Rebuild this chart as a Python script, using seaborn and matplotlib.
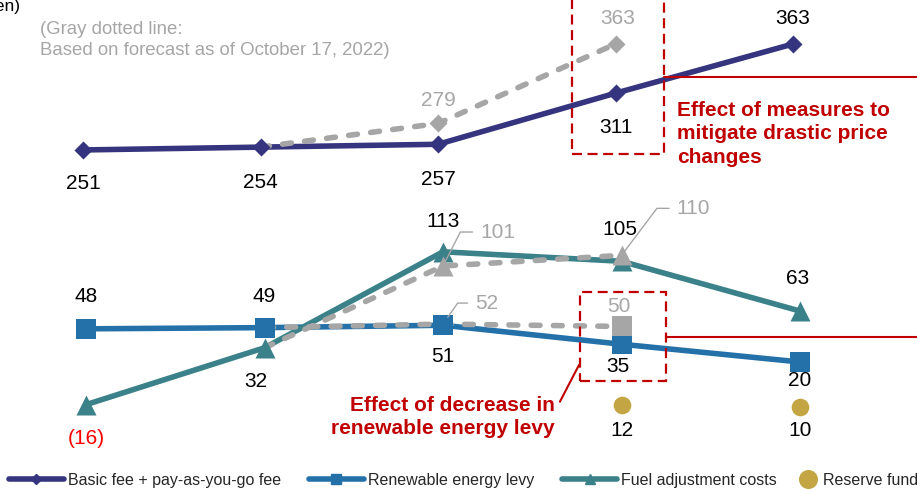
import numpy as np
import pandas as pd
import matplotlib
matplotlib.use("Agg")
import matplotlib.pyplot as plt
import seaborn as sns
from matplotlib.lines import Line2D
from matplotlib.patches import Rectangle

# ---------------- data ----------------
periods = ["P1", "P2", "P3", "P4", "P5"]
basic_fee = [251, 254, 257, 311, 363]
renewable_levy = [48, 49, 51, 35, 20]
fuel_adjustment = [-16, 32, 113, 105, 63]
reserve_fund = [np.nan, np.nan, np.nan, 12, 10]
basic_fee_forecast = [np.nan, 254, 279, 363, np.nan]
renewable_levy_forecast = [np.nan, 49, 52, 50, np.nan]
fuel_adjustment_forecast = [np.nan, 32, 101, 110, np.nan]
series_names = ["Basic fee + pay-as-you-go fee", "Renewable energy levy",
                "Fuel adjustment costs", "Reserve fund"]
note_text = "(Gray dotted line:\nBased on forecast as of October 17, 2022)"
unit_text = "(Yen)"
top_effect_text = "Effect of measures to\nmitigate drastic price\nchanges"
low_effect_text = "Effect of decrease in\nrenewable energy levy"

# ---------------- style ----------------
NAVY = "#35347F"
BLUE = "#2471AA"
TEAL = "#3A818A"
GOLD = "#C3A544"
GRAY = "#A6A6A6"
RED = "#C00000"
NEG = "#FF0000"
LW = 4.0
FS = 15

sns.set_theme(style="white")
plt.rcParams["font.family"] = ["Liberation Sans", "DejaVu Sans"]

W, H = 917, 491
fig = plt.figure(figsize=(W / 100, H / 100), dpi=100)
x = np.arange(len(periods))


def make_axes(x0, dx, y0, dy):
    ax = fig.add_axes([0, 0, 1, 1])
    ax.patch.set_alpha(0)
    ax.axis("off")
    lims = ((-x0 / dx, (W - x0) / dx), ((y0 - H) / dy, y0 / dy))
    return ax, lims


ax_top, lim_top = make_axes(83, 177.5, 387.4, 0.946)
ax_mid, lim_mid = make_axes(86, 178.5, 385.7, 1.185)
ax_res, lim_res = make_axes(86, 178.5, 415.2, 0.85)


def frame(vals, idx=None):
    df = pd.DataFrame({"x": x, "y": vals})
    if idx is not None:
        df = df.loc[idx]
    return df.dropna()


def draw_line(ax, vals, color, z, **kw):
    sns.lineplot(data=frame(vals), x="x", y="y", ax=ax, color=color, lw=LW,
                 zorder=z, legend=False, **kw)


def draw_markers(ax, vals, color, marker, ms, z, idx=None):
    sns.scatterplot(data=frame(vals, idx), x="x", y="y", ax=ax, color=color,
                    marker=marker, s=ms ** 2, linewidth=0, zorder=z, legend=False)


def fmt(v):
    return f"({abs(int(v))})" if v < 0 else f"{int(v)}"


def labels(ax, vals, offs, color="black", idx=None):
    for i, v in enumerate(vals):
        if np.isnan(v) or (idx is not None and i not in idx):
            continue
        dx, dy = offs[i]
        c = NEG if v < 0 else color
        ax.annotate(fmt(v), xy=(x[i], v), xytext=(dx, -dy), textcoords="offset pixels",
                    ha="center", va="center", fontsize=FS, color=c, zorder=10)


dash = (0, (1.6, 2.4))

# top: basic fee
draw_line(ax_top, basic_fee, NAVY, 2)
draw_line(ax_top, basic_fee_forecast, GRAY, 3, linestyle=dash, dash_capstyle="round")
draw_markers(ax_top, basic_fee, NAVY, "D", 9.2, 4)
draw_markers(ax_top, basic_fee_forecast, GRAY, "D", 9.2, 5, idx=[2, 3])
labels(ax_top, basic_fee, [(0, 34), (0, 35), (0, 35), (0, 34), (0, -26)])
labels(ax_top, basic_fee_forecast, [None, None, (0, -23), (2, -26), None], GRAY, idx=[2, 3])

# middle: levy and fuel
draw_line(ax_mid, renewable_levy, BLUE, 2)
draw_line(ax_mid, fuel_adjustment, TEAL, 2)
draw_line(ax_mid, renewable_levy_forecast, GRAY, 3, linestyle=dash, dash_capstyle="round")
draw_line(ax_mid, fuel_adjustment_forecast, GRAY, 3, linestyle=dash, dash_capstyle="round")
draw_markers(ax_mid, renewable_levy, BLUE, "s", 14.4, 4)
draw_markers(ax_mid, fuel_adjustment, TEAL, "^", 14.4, 4)
draw_markers(ax_mid, renewable_levy_forecast, GRAY, "s", 14.4, 5, idx=[3])
draw_markers(ax_mid, fuel_adjustment_forecast, GRAY, "^", 14.4, 5, idx=[2, 3])
labels(ax_mid, renewable_levy, [(0, -32), (0, -31), (0, 31), (-4, 22), (0, 19)])
labels(ax_mid, fuel_adjustment, [(0, 34), (-9, 34), (0, -30), (-2, -32), (-2, -33)])
labels(ax_mid, renewable_levy_forecast, [None, None, None, (-3, -20), None], GRAY, idx=[3])

leader = [(renewable_levy_forecast, 2, 32, 21, 55, 6),
          (fuel_adjustment_forecast, 2, 37, 34, 63, 3),
          (fuel_adjustment_forecast, 3, 55, 47, 53, 2)]
for vals, i, dx, dy, ang, shr in leader:
    ax_mid.annotate(fmt(vals[i]), xy=(x[i], vals[i]), xytext=(dx, dy),
                    textcoords="offset pixels", ha="left", va="center",
                    fontsize=FS, color=GRAY, zorder=10,
                    arrowprops=dict(arrowstyle="-", color=GRAY, lw=1.0,
                                    connectionstyle=f"angle,angleA=0,angleB={ang},rad=0",
                                    relpos=(0, 0.5), shrinkA=3, shrinkB=shr))

# reserve fund
draw_markers(ax_res, reserve_fund, GOLD, "o", 12.7, 4)
labels(ax_res, reserve_fund, [None, None, None, (0, 25), (0, 24)])

# ---------------- red annotations ----------------
ax_top.add_patch(Rectangle((2.753, 246.4), 0.52, 300, fill=False, ec=RED, lw=1.6,
                           ls=(0, (4.5, 2.5)), zorder=6))
ax_top.plot([3.273, 6], [328.4, 328.4], color=RED, lw=1.5, zorder=6)
ax_top.text(3.346, 268, top_effect_text, color=RED, fontsize=FS, fontweight="bold",
            ha="left", va="center", linespacing=1.32)

ax_mid.add_patch(Rectangle((2.767, 4.0), 0.48, 74.8, fill=False, ec=RED, lw=1.6,
                           ls=(0, (4.5, 2.5)), zorder=6))
ax_mid.plot([3.247, 6], [41.35, 41.35], color=RED, lw=1.5, zorder=6)
ax_mid.plot([2.655, 2.762], [-13.5, 17.5], color=RED, lw=1.5, zorder=6)
ax_mid.text(2.627, -26.4, low_effect_text, color=RED, fontsize=FS, fontweight="bold",
            ha="right", va="center", multialignment="right", linespacing=1.32)

fig.text(40 / W, 1 - 40 / H, note_text, color=GRAY, fontsize=13.4, ha="left",
         va="center", linespacing=1.38)
fig.text(21 / W, 1 - 10.5 / H, unit_text, color="black", fontsize=12.5, ha="right",
         va="baseline")

# ---------------- legends ----------------
h1 = [Line2D([0], [0], color=NAVY, lw=LW, marker="D", ms=4.6),
      Line2D([0], [0], color=BLUE, lw=LW, marker="s", ms=7),
      Line2D([0], [0], color=TEAL, lw=LW, marker="^", ms=7)]
fig.legend(handles=h1, labels=series_names[:3], loc="center left",
           bbox_to_anchor=(9 / W, 1 - 480.5 / H), ncol=3, frameon=False,
           fontsize=11.5, handlelength=3.44, handletextpad=0.25, columnspacing=1.75,
           borderpad=0, borderaxespad=0)
h2 = [Line2D([0], [0], color=GOLD, lw=0, marker="o", ms=12.7)]
fig.legend(handles=h2, labels=series_names[3:], loc="center left",
           bbox_to_anchor=(796.7 / W, 1 - 480.5 / H), frameon=False,
           fontsize=11.5, handlelength=1.375, handletextpad=0.27,
           borderpad=0, borderaxespad=0)

for ax, (xl, yl) in [(ax_top, lim_top), (ax_mid, lim_mid), (ax_res, lim_res)]:
    ax.set_xlim(*xl)
    ax.set_ylim(*yl)

fig.savefig("out.png", dpi=100)
